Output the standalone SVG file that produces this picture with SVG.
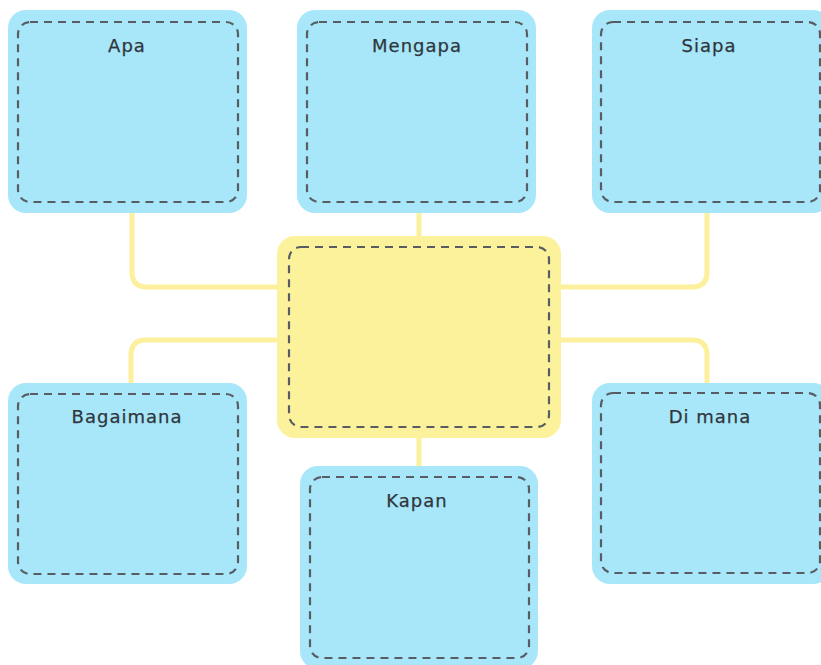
<svg xmlns="http://www.w3.org/2000/svg" width="821" height="665" viewBox="0 0 821 665">
<style>
.outer{fill:#a7e7f9;}
.center{fill:#fcf29b;}
.inner{fill:none;stroke:#585d63;stroke-width:2.2;stroke-dasharray:8 6;}
.conn{fill:none;stroke:#fdf09c;stroke-width:5;}
.lbl{font-family:"DejaVu Sans",sans-serif;font-size:18px;fill:#30363c;text-anchor:middle;letter-spacing:1px;stroke:#30363c;stroke-width:0.25;}
</style>
<rect width="821" height="665" fill="#ffffff"/>
<g id="connectors">
<path class="conn" d="M132 213 V272 Q132 287 147 287 H278"/>
<path class="conn" d="M278 340 H146 Q131 340 131 355 V383"/>
<path class="conn" d="M707 213 V272 Q707 287 692 287 H560"/>
<path class="conn" d="M560 340 H692 Q707 340 707 355 V383"/>
<path class="conn" d="M419 213 V237"/>
<path class="conn" d="M419 437 V467"/>
</g>
<g id="apa">
<rect class="outer" x="8" y="10" width="239" height="203" rx="18"/>
<rect class="inner" x="18" y="22" width="220" height="180" rx="12"/>
<text class="lbl" x="127" y="52">Apa</text>
</g>
<g id="mengapa">
<rect class="outer" x="297" y="10" width="239" height="203" rx="18"/>
<rect class="inner" x="307" y="22" width="220" height="180" rx="12"/>
<text class="lbl" x="417" y="52">Mengapa</text>
</g>
<g id="siapa">
<rect class="outer" x="592" y="10" width="239" height="203" rx="18"/>
<rect class="inner" x="601" y="22" width="219" height="180" rx="12"/>
<text class="lbl" x="709" y="52">Siapa</text>
</g>
<g id="center">
<rect class="center" x="277" y="236" width="284" height="202" rx="18"/>
<rect class="inner" x="289" y="247" width="260" height="180" rx="12"/>
</g>
<g id="bagaimana">
<rect class="outer" x="8" y="383" width="239" height="201" rx="18"/>
<rect class="inner" x="18" y="394" width="220" height="180" rx="12"/>
<text class="lbl" x="127" y="423">Bagaimana</text>
</g>
<g id="dimana">
<rect class="outer" x="592" y="383" width="239" height="201" rx="18"/>
<rect class="inner" x="601" y="393" width="219" height="180" rx="12"/>
<text class="lbl" x="710" y="423">Di mana</text>
</g>
<g id="kapan">
<rect class="outer" x="300" y="466" width="238" height="203" rx="18"/>
<rect class="inner" x="310" y="477" width="219" height="181" rx="12"/>
<text class="lbl" x="417" y="507">Kapan</text>
</g>
</svg>
